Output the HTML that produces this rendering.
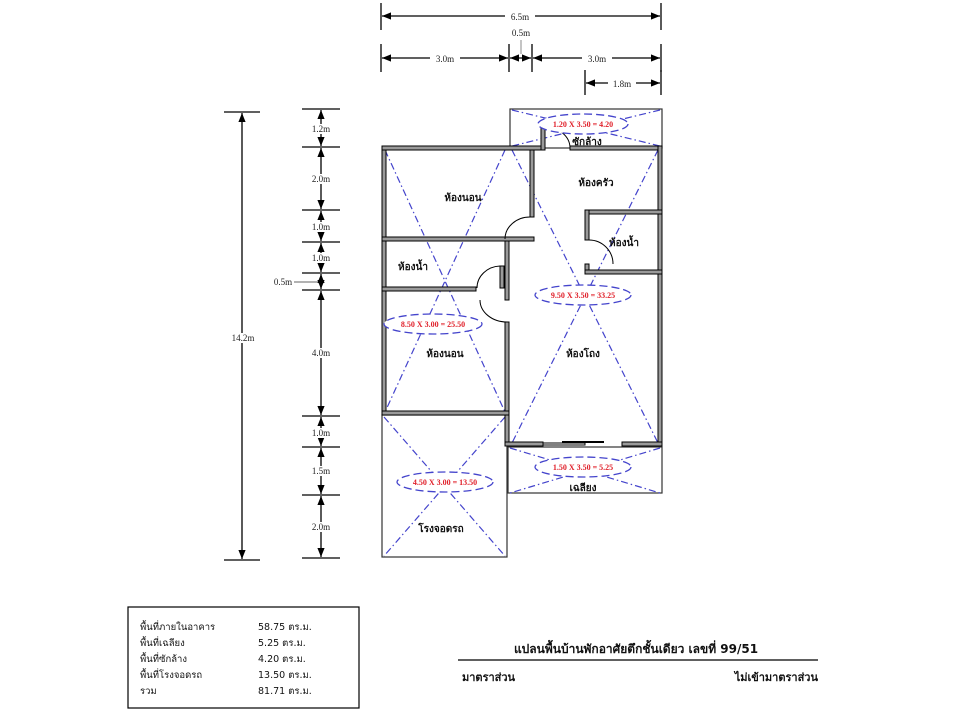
<!DOCTYPE html>
<html><head><meta charset="utf-8"><style>
html,body{margin:0;padding:0;background:#fff;width:960px;height:720px;overflow:hidden}
svg{display:block}
.t{font-family:"Liberation Serif","DejaVu Serif",serif;font-size:9px;fill:#222}
.th{font-family:"DejaVu Sans","Liberation Sans",sans-serif;font-size:10px;font-weight:bold;fill:#111}
.r{font-family:"Liberation Serif",serif;font-size:8px;font-weight:bold;fill:#e0202a}
.w{fill:#9a9a9a;stroke:#000;stroke-width:1}
.bx{fill:none;stroke:#333;stroke-width:1.2}
.d{stroke:#4444cc;stroke-width:1.2;stroke-dasharray:7 3 1.5 3;fill:none}
.e{stroke:#4444cc;stroke-width:1.3;stroke-dasharray:8 4;fill:#fff}
.dim{stroke:#000;stroke-width:1.3}
.arc{fill:none;stroke:#000;stroke-width:1}
</style></head><body>
<svg width="960" height="720" viewBox="0 0 960 720" xmlns="http://www.w3.org/2000/svg">
<defs>
<marker id="a" viewBox="0 0 10 10" refX="10" refY="5" markerWidth="7" markerHeight="7" orient="auto-start-reverse"><path d="M0,1 L10,5 L0,9z" fill="#000"/></marker>
</defs>
<g class="dim">
<line x1="381" y1="3" x2="381" y2="30"/><line x1="661" y1="3" x2="661" y2="30"/>
<line x1="382" y1="16" x2="660" y2="16" marker-start="url(#a)" marker-end="url(#a)"/>
<line x1="381" y1="44" x2="381" y2="72"/><line x1="509" y1="44" x2="509" y2="72"/><line x1="532" y1="44" x2="532" y2="72"/><line x1="661" y1="44" x2="661" y2="72"/>
<line x1="382" y1="58" x2="508" y2="58" marker-start="url(#a)" marker-end="url(#a)"/>
<line x1="510" y1="58" x2="531" y2="58" marker-start="url(#a)" marker-end="url(#a)"/>
<line x1="533" y1="58" x2="660" y2="58" marker-start="url(#a)" marker-end="url(#a)"/>
<line x1="585" y1="70" x2="585" y2="95"/><line x1="661" y1="70" x2="661" y2="95"/>
<line x1="586" y1="83" x2="660" y2="83" marker-start="url(#a)" marker-end="url(#a)"/>
</g>
<line x1="521" y1="40" x2="521" y2="54" stroke="#888" stroke-width="1"/>
<rect x="505" y="12" width="30" height="9" fill="#fff"/><text class="t" x="520" y="20" text-anchor="middle">6.5m</text>
<text class="t" x="521" y="36" text-anchor="middle">0.5m</text>
<rect x="430" y="54" width="30" height="9" fill="#fff"/><text class="t" x="445" y="62" text-anchor="middle">3.0m</text>
<rect x="582" y="54" width="30" height="9" fill="#fff"/><text class="t" x="597" y="62" text-anchor="middle">3.0m</text>
<rect x="608" y="79" width="28" height="9" fill="#fff"/><text class="t" x="622" y="87" text-anchor="middle">1.8m</text>
<g class="dim">
<line x1="224" y1="112" x2="260" y2="112"/><line x1="224" y1="560" x2="260" y2="560"/>
<line x1="242" y1="113" x2="242" y2="559" marker-start="url(#a)" marker-end="url(#a)"/>
<line x1="302" y1="109" x2="340" y2="109"/><line x1="302" y1="147" x2="340" y2="147"/><line x1="302" y1="210" x2="340" y2="210"/><line x1="302" y1="242" x2="340" y2="242"/><line x1="302" y1="273" x2="340" y2="273"/><line x1="302" y1="290" x2="340" y2="290"/><line x1="302" y1="416" x2="340" y2="416"/><line x1="302" y1="447" x2="340" y2="447"/><line x1="302" y1="495" x2="340" y2="495"/><line x1="302" y1="558" x2="340" y2="558"/>
<line x1="321" y1="110" x2="321" y2="146" marker-start="url(#a)" marker-end="url(#a)"/>
<line x1="321" y1="148" x2="321" y2="209" marker-start="url(#a)" marker-end="url(#a)"/>
<line x1="321" y1="211" x2="321" y2="241" marker-start="url(#a)" marker-end="url(#a)"/>
<line x1="321" y1="243" x2="321" y2="272" marker-start="url(#a)" marker-end="url(#a)"/>
<line x1="321" y1="274" x2="321" y2="289" marker-start="url(#a)" marker-end="url(#a)"/>
<line x1="321" y1="291" x2="321" y2="415" marker-start="url(#a)" marker-end="url(#a)"/>
<line x1="321" y1="417" x2="321" y2="446" marker-start="url(#a)" marker-end="url(#a)"/>
<line x1="321" y1="448" x2="321" y2="494" marker-start="url(#a)" marker-end="url(#a)"/>
<line x1="321" y1="496" x2="321" y2="557" marker-start="url(#a)" marker-end="url(#a)"/>
</g>
<line x1="294" y1="282" x2="318" y2="282" stroke="#666" stroke-width="1"/>
<g fill="#fff"><rect x="228" y="333" width="30" height="10"/><rect x="306" y="124" width="30" height="10"/><rect x="306" y="174" width="30" height="10"/><rect x="306" y="222" width="30" height="10"/><rect x="306" y="253" width="30" height="10"/><rect x="306" y="348" width="30" height="10"/><rect x="306" y="428" width="30" height="10"/><rect x="306" y="466" width="30" height="10"/><rect x="306" y="522" width="30" height="10"/></g>
<text class="t" x="243" y="341" text-anchor="middle">14.2m</text>
<g class="t" text-anchor="middle"><text x="321" y="132">1.2m</text><text x="321" y="182">2.0m</text><text x="321" y="230">1.0m</text><text x="321" y="261">1.0m</text><text x="321" y="356">4.0m</text><text x="321" y="436">1.0m</text><text x="321" y="474">1.5m</text><text x="321" y="530">2.0m</text></g>
<text class="t" x="283" y="285" text-anchor="middle">0.5m</text>
<rect class="bx" x="510" y="109" width="152" height="39"/>
<rect class="bx" x="382" y="415" width="125" height="142"/>
<rect class="bx" x="508" y="447" width="154" height="46"/>
<g class="d">
<line x1="512" y1="110" x2="660" y2="146"/><line x1="660" y1="110" x2="512" y2="146"/>
<line x1="385" y1="150" x2="505" y2="412"/><line x1="505" y1="150" x2="385" y2="412"/>
<line x1="512" y1="150" x2="658" y2="443"/><line x1="658" y1="150" x2="512" y2="443"/>
<line x1="384" y1="417" x2="505" y2="556"/><line x1="505" y1="417" x2="384" y2="556"/>
<line x1="510" y1="448" x2="660" y2="493"/><line x1="660" y1="448" x2="510" y2="493"/>
</g>
<g class="w">
<rect x="382" y="146" width="4" height="269"/>
<rect x="382" y="146" width="161" height="4"/>
<rect x="541" y="127" width="4" height="23"/>
<rect x="570" y="146" width="92" height="4"/>
<rect x="658" y="146" width="4" height="300"/>
<rect x="530" y="150" width="4" height="67"/>
<rect x="382" y="237" width="152" height="4"/>
<rect x="505" y="241" width="4" height="59"/>
<rect x="500" y="266" width="4" height="22"/>
<rect x="382" y="287" width="94" height="4"/>
<rect x="505" y="322" width="4" height="122"/>
<rect x="382" y="411" width="127" height="4"/>
<rect x="585" y="210" width="77" height="4"/>
<rect x="585" y="210" width="4" height="30"/>
<rect x="585" y="264" width="4" height="10"/>
<rect x="585" y="270" width="77" height="4"/>
<rect x="505" y="442" width="38" height="4"/>
<rect x="622" y="442" width="40" height="4"/>
<rect x="543" y="443" width="42" height="2" fill="#fff"/>
</g>
<line x1="562" y1="442" x2="604" y2="442" stroke="#000" stroke-width="2"/>
<g class="arc">
<path d="M545,127 A25,21 0 0 1 570,148"/>
<path d="M505,239 A25,22 0 0 1 530,217"/>
<path d="M477,288 A24,22 0 0 1 500,266"/>
<path d="M480,300 A27,22 0 0 0 507,322"/>
<path d="M589,240 A24,24 0 0 1 613,264"/>
</g>
<ellipse class="e" cx="583" cy="124" rx="45" ry="10"/>
<ellipse class="e" cx="583" cy="295" rx="48" ry="10"/>
<ellipse class="e" cx="433" cy="324" rx="49" ry="10"/>
<ellipse class="e" cx="445" cy="482" rx="48" ry="10"/>
<ellipse class="e" cx="583" cy="467" rx="48" ry="10"/>
<g class="r" text-anchor="middle">
<text x="583" y="127">1.20 X 3.50 = 4.20</text>
<text x="583" y="298">9.50 X 3.50 = 33.25</text>
<text x="433" y="327">8.50 X 3.00 = 25.50</text>
<text x="445" y="485">4.50 X 3.00 = 13.50</text>
<text x="583" y="470">1.50 X 3.50 = 5.25</text>
</g>
<g class="th" text-anchor="middle">
<text x="587" y="145">ซักล้าง</text>
<text x="463" y="201">ห้องนอน</text>
<text x="596" y="186">ห้องครัว</text>
<text x="624" y="246">ห้องน้ำ</text>
<text x="413" y="270">ห้องน้ำ</text>
<text x="445" y="357">ห้องนอน</text>
<text x="583" y="357">ห้องโถง</text>
<text x="583" y="491">เฉลียง</text>
<text x="441" y="532">โรงจอดรถ</text>
</g>
<rect x="128" y="607" width="231" height="101" fill="none" stroke="#000" stroke-width="1.2"/>
<g font-family="DejaVu Sans,Liberation Sans,sans-serif" font-size="9.5" fill="#111">
<text x="140" y="630">พื้นที่ภายในอาคาร</text><text x="258" y="630">58.75 ตร.ม.</text>
<text x="140" y="646">พื้นที่เฉลียง</text><text x="258" y="646">5.25 ตร.ม.</text>
<text x="140" y="662">พื้นที่ซักล้าง</text><text x="258" y="662">4.20 ตร.ม.</text>
<text x="140" y="678">พื้นที่โรงจอดรถ</text><text x="258" y="678">13.50 ตร.ม.</text>
<text x="140" y="694">รวม</text><text x="258" y="694">81.71 ตร.ม.</text>
</g>
<text x="636" y="653" text-anchor="middle" font-family="DejaVu Sans,Liberation Sans,sans-serif" font-size="12" font-weight="bold" fill="#111">แปลนพื้นบ้านพักอาศัยตึกชั้นเดียว เลขที่ 99/51</text>
<line x1="458" y1="660" x2="818" y2="660" stroke="#000" stroke-width="1.3"/>
<text x="462" y="681" font-family="DejaVu Sans,Liberation Sans,sans-serif" font-size="11" font-weight="bold" fill="#111">มาตราส่วน</text>
<text x="818" y="681" text-anchor="end" font-family="DejaVu Sans,Liberation Sans,sans-serif" font-size="11" font-weight="bold" fill="#111">ไม่เข้ามาตราส่วน</text>
</svg>
</body></html>
